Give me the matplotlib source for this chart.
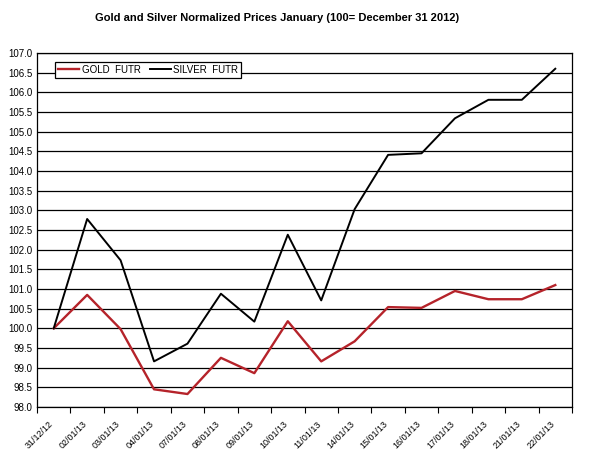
import numpy as np
from matplotlib import pyplot as plt
from matplotlib.transforms import ScaledTranslation

plt.rcParams['font.family'] = ['Liberation Sans', 'DejaVu Sans']

dates = ['31/12/12', '02/01/13', '03/01/13', '04/01/13', '07/01/13', '08/01/13',
         '09/01/13', '10/01/13', '11/01/13', '14/01/13', '15/01/13', '16/01/13',
         '17/01/13', '18/01/13', '21/01/13', '22/01/13']
gold = [100.0, 100.85, 99.98, 98.45, 98.33, 99.25, 98.86, 100.18,
        99.16, 99.67, 100.54, 100.52, 100.95, 100.74, 100.74, 101.1]
silver = [100.0, 102.78, 101.73, 99.16, 99.61, 100.88, 100.17, 102.38,
          100.71, 103.03, 104.41, 104.45, 105.34, 105.81, 105.81, 106.6]

fig = plt.figure(figsize=(5.91, 4.57), dpi=100)
ax = fig.add_axes([37/591, 1 - 407/457, (572-37)/591, (407-53)/457])

x = np.arange(len(dates)) + 0.5
ax.plot(x, gold, color='#b5232a', lw=1.7, label='GOLD  FUTR')
ax.plot(x, silver, color='black', lw=1.4, label='SILVER  FUTR')

ax.set_xlim(0, len(dates))
ax.set_ylim(98.0, 107.0)
ax.set_yticks(np.arange(98.0, 107.01, 0.5))
ax.set_yticklabels([f'{v:.1f}' for v in np.arange(98.0, 107.01, 0.5)], fontsize=7)
ax.yaxis.grid(True, color='black', lw=0.9)
ax.set_axisbelow(True)

ax.set_xticks(np.arange(len(dates) + 1))
ax.set_xticklabels([])
ax.set_xticks(x, minor=True)
ax.set_xticklabels(dates, minor=True, rotation=45, ha='right', va='top',
                   rotation_mode='anchor', fontsize=6.5)
ax.tick_params(axis='x', which='minor', length=0, pad=9)
ax.tick_params(axis='x', which='major', length=4, direction='out')
ax.tick_params(axis='y', length=0, pad=3)
shift = ScaledTranslation(-5/100, 0, fig.dpi_scale_trans)
for lab in ax.get_xticklabels(minor=True):
    lab.set_transform(lab.get_transform() + shift)

for s in ax.spines.values():
    s.set_linewidth(0.9)

leg = ax.legend(loc='upper left', bbox_to_anchor=(0.034, 0.975), ncol=2, fontsize=7,
                frameon=True, fancybox=False, edgecolor='black', framealpha=1,
                handlelength=2.2, handletextpad=0.25, columnspacing=0.9,
                borderpad=0.3, borderaxespad=0)
leg.get_frame().set_linewidth(0.9)

fig.text(277/591, 1 - 18/457, 'Gold and Silver Normalized Prices January (100= December 31 2012)',
         ha='center', va='center', fontsize=8, fontweight='bold')

fig.savefig('out.png', dpi=100)
